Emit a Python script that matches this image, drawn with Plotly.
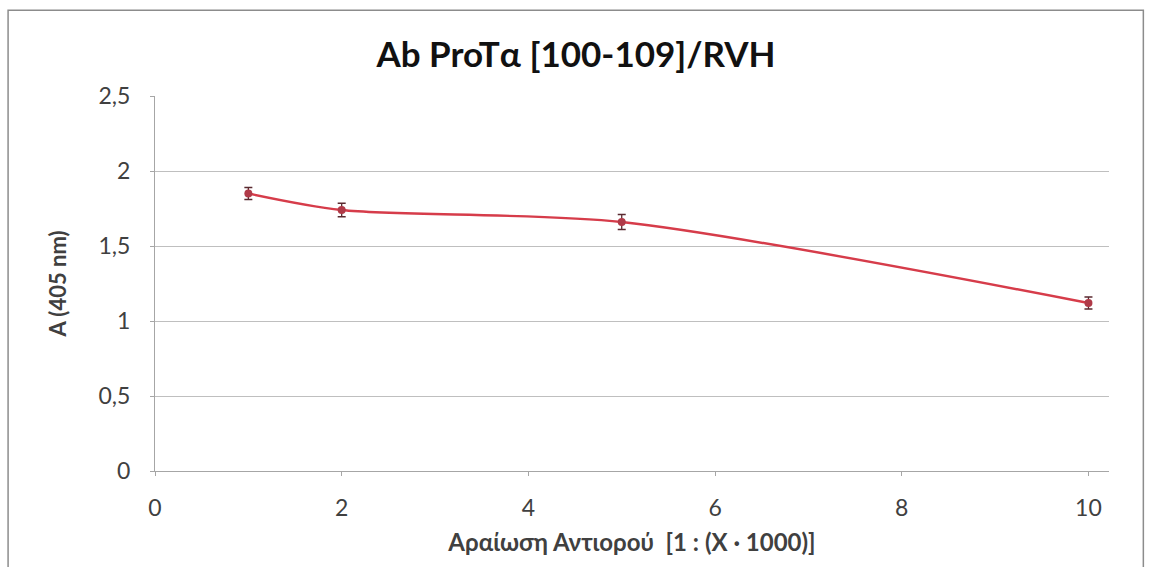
import plotly.graph_objects as go

# Data
dilution_x = [1, 2, 5, 10]
absorbance = [1.85, 1.74, 1.66, 1.12]
error = [0.04, 0.045, 0.05, 0.04]
y_tick_vals = [0, 0.5, 1, 1.5, 2, 2.5]
y_tick_text = ["0", "0,5", "1", "1,5", "2", "2,5"]
x_tick_vals = [0, 2, 4, 6, 8, 10]
x_tick_text = ["0", "2", "4", "6", "8", "10"]

title_text = "Ab ProTα [100-109]/RVH"
x_title = "Αραίωση Αντιορού  [1 : (X · 1000)]"
y_title = "A (405 nm)"

FONT = "Lato, 'Open Sans', sans-serif"

fig = go.Figure()
fig.add_trace(go.Scatter(
    x=dilution_x, y=absorbance,
    mode="lines+markers",
    line=dict(color="#d63c4a", width=2.4, shape="spline", smoothing=0.8),
    marker=dict(color="#b03a48", size=8, symbol="circle"),
    error_y=dict(type="data", array=error, visible=True, color="#5a2a30",
                 thickness=1.3, width=4),
    showlegend=False,
))

fig.update_layout(
    width=1152, height=567,
    margin=dict(l=155, r=43, t=96, b=96),
    paper_bgcolor="white", plot_bgcolor="white",
    title=dict(text=f"<b>{title_text}</b>", x=0.5, xanchor="center",
               y=0.903, yanchor="middle",
               font=dict(family=FONT, size=35, color="#111111")),
    font=dict(family=FONT, color="#404040"),
    xaxis=dict(range=[0, 10.22], tickvals=x_tick_vals, ticktext=x_tick_text,
               showgrid=False, zeroline=False, showline=True,
               linecolor="#a6a6a6", linewidth=1,
               ticks="outside", ticklen=4, tickcolor="#a6a6a6",
               ticklabelstandoff=12,
               tickfont=dict(size=23, color="#404040"),
               title=dict(text=f"<b>{x_title}</b>", standoff=14,
                          font=dict(size=24, color="#404040"))),
    yaxis=dict(range=[0, 2.5], tickvals=y_tick_vals, ticktext=y_tick_text,
               showgrid=True, gridcolor="#bfbfbf", gridwidth=1,
               zeroline=False, showline=True,
               linecolor="#a6a6a6", linewidth=1,
               ticks="outside", ticklen=4, tickcolor="#a6a6a6",
               ticklabelstandoff=15,
               tickfont=dict(size=23, color="#404040"),
               title=dict(text=f"<b>{y_title}</b>", standoff=25,
                          font=dict(size=22, color="#404040"))),
    shapes=[dict(type="rect", xref="paper", yref="paper",
                 x0=-0.154, x1=1.036, y0=-0.4, y1=1.229,
                 line=dict(color="#8c8c8c", width=1.5), layer="below")],
)

fig.write_html("out.html")
